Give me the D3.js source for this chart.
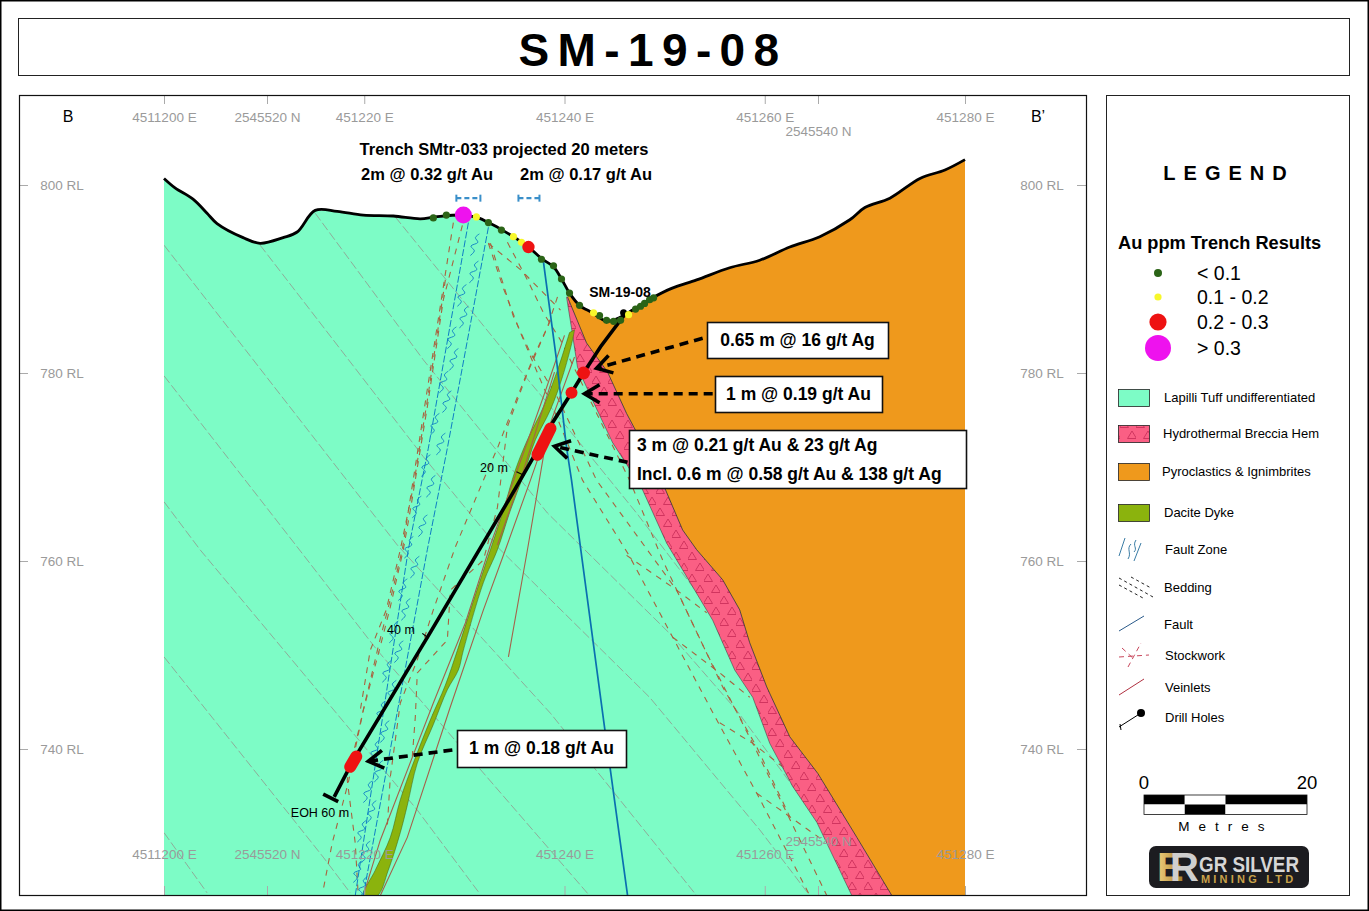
<!DOCTYPE html>
<html>
<head>
<meta charset="utf-8">
<script src="https://cdn.jsdelivr.net/npm/d3@7/dist/d3.min.js"></script>
<style>
  html, body { margin: 0; padding: 0; background: #fff; }
  svg { display: block; font-family: "Liberation Sans", Arial, sans-serif; }
</style>
</head>
<body>
<script>
// section coordinates: metres east of 451200 E, then RL in metres
const eastTicks = [0, 20, 40, 60, 80];
const eastLabels = ["4511200 E", "451220 E", "451240 E", "451260 E", "451280 E"];
const northTicks = [2545520, 2545540];
const rlTicks = [800, 780, 760, 740];

const ground = [[0,800.7],[1.1,799.7],[2.9,798.5],[4.3,797],[5.3,795.9],[7.9,794.4],[9.6,793.8],[11.9,794.4],[13.3,795],[15.1,797.3],[17.3,797.2],[19.9,796.8],[22.9,796.7],[25.6,796.4],[27.1,796.6],[29.9,796.8],[31.4,796.5],[32.4,796],[33.8,795.2],[36.4,793.4],[37.8,792.1],[38.9,791.3],[39.7,790],[40.5,788.5],[41.5,787.2],[42.8,786.4],[44.2,785.5],[45.5,785.9],[46.8,786.7],[48.8,788],[50.7,789],[53.2,789.9],[56.5,791.2],[59.5,792],[62.5,793.4],[65.5,794.5],[68.5,796.3],[70,797.6],[72.5,798.6],[75.5,800.7],[78,801.6],[80,802.7]];

const brecciaLeft = [[40.2,788.1],[40.7,784.8],[41.3,780.6],[42.8,777.1],[44.8,772.6],[47.7,767.8],[50.2,761.9],[54.8,753.7],[57,748.4],[58.8,745.5],[60.5,740.6],[62.8,736],[65.2,732.2],[68.7,724.4]];
const brecciaRight = [[40.3,788.1],[42.2,783.2],[44.3,780.1],[46.2,775.7],[47.2,773.7],[50,767.8],[51.8,763.3],[53.2,761.2],[55.8,758],[57.5,754.8],[58.5,751.3],[60.2,746.6],[62.5,741.3],[65.3,737.4],[69.2,730.6],[72.7,724.4]];

const dykeLeft = [[40.5,784.3],[39.3,780.3],[37.9,776.4],[36.3,772.9],[35.1,769.7],[33.9,765.4],[32.6,761.2],[31.1,756.4],[29.3,750.5],[28.1,746.8],[26.6,743.1],[24.9,738.5],[23.6,734.6],[22.6,730.6],[21.1,727.1],[19.9,724.4]];
const dykeRight = [[21.3,724.4],[22.4,727.1],[23.6,731.1],[24.3,734],[25.3,738.5],[26.9,742.6],[28.3,746.3],[29.4,748.4],[29.9,750.5],[31.9,757.7],[33.3,761.2],[34.6,765.4],[35.9,769.1],[37.1,772.9],[38.6,776.1],[39.8,779.6],[40.8,783.5],[41,784.6]];

const veinlets = [
  [[41,781.7],[38.6,774.7],[36.6,768.6],[34.1,761.2],[31.9,754.8],[28.6,744.5],[24.3,730.6],[21.6,724.4]],
  [[40,784],[37.9,777.5],[36.1,772.1],[32.6,761.7],[30.1,753.4],[26.9,744.9],[21.6,730.3],[19.9,724.4]],
  [[38,771.8],[36.3,761.2],[34.4,749.8]],
  [[39,780.1],[35.6,768.6],[33.3,761.7]]
];

const fault = [[37.9,791.8],[39.2,781.4],[40.2,772.1],[40.7,768.6],[44,742.3],[46.3,724.4]];

const faultZone = [
  [[30.4,796],[26.4,772],[24.4,761.2],[19.1,724.4]],
  [[32.4,795.5],[28.3,772],[26.3,761.2],[19.9,724.4]]
];
const wiggleCentres = [[31,793.6],[30.9,790.7],[29.7,788.2],[29.9,785.9],[28.7,783.7],[28.9,781.4],[27.9,779],[28.2,776.9],[27,774.5],[27.6,772.4],[26.1,770.1],[26.6,767.9],[25.2,765.7],[25.8,763.7],[24.4,761.4],[25,759.3],[23.8,756.9],[24.1,754.8],[22.9,752.4],[23.4,750.3],[22.2,748.2],[22.7,746.1],[21.6,743.9],[22,741.8],[21,739.7],[21.4,737.6],[20.3,735.4],[20.7,733.3],[19.7,731.2],[20.1,729],[19.3,726.9],[19.8,725.2]];
const wiggleShape = [[-0.4,-1.1],[0,-0.6],[-0.35,-0.1],[0.35,0.3],[0.1,0.8],[0.5,1.2]];

const bedding = [
  [[0,766.3],[3.6,761.2],[25.3,733.5],[31.4,724.8]],
  [[0,779.7],[13.3,761.5],[21.3,750.5],[42.5,724.4]],
  [[0,793.6],[23.3,761.7],[38.6,743.8],[53.2,724.4]],
  [[9.6,793.6],[25.9,771.1],[33.3,761.5],[38.6,755.9],[48.5,745.5],[59.5,731.4],[64.5,724.4]],
  [[15.1,797],[25.9,781.4],[38.3,765.1],[50.5,752.3],[57.2,744.1],[67.5,729.3]],
  [[23.1,796.6],[33.3,783.2],[38.6,776.4],[47.2,765.1],[59.5,747.9]],
  [[0,749.8],[15.9,728.5],[18.6,724.7]],
  [[0,731.1],[4.3,724.7]]
];

const stockwork = [
  [[28.9,796],[23.8,761.2],[22.6,755.9],[21.4,750.9],[19.9,744.1],[18.4,736.4],[16.8,730],[15.9,725]],
  [[29.8,795.7],[27.9,787.8],[26.3,776.4],[24.6,765.4],[23.9,761.2],[22.6,755.1],[21.6,750.9],[19.9,744.1],[18.3,736.7],[19.1,730],[19.4,724.4]],
  [[28.1,789.9],[26.3,777.1],[24.9,767.9],[23.6,761.2],[22.2,754.8],[20.6,750.5],[19.6,744.1]],
  [[32.4,793.8],[33.9,789],[35.6,784.3],[37.9,778.5],[39.2,775.4],[41.8,768.6],[46.5,760.5],[51.5,750.5],[55.2,743.1],[59.2,735.3],[64.5,724.4]],
  [[32.6,793.8],[34.9,786],[36.6,782.1],[39.3,777.4],[43.2,768.6],[51.2,756.9],[54.2,750.2],[58.8,740.6],[62.2,733.2],[66.2,724.4]],
  [[34.3,793.9],[36.3,789.9],[37.9,786.4],[39.6,783.5],[46.5,768.6],[49.8,760.1],[52.5,754],[55.8,746.6],[59.2,740.2],[62.5,732.8]],
  [[32.4,793.8],[35.6,791],[39.6,786.7]],
  [[46.2,760.6],[51.2,756.9],[54.2,754.5]],
  [[50.8,751.9],[55.5,748.1],[58.5,745.5]],
  [[55.5,742.8],[58.8,740.6],[61.8,738.1]],
  [[59.2,735.3],[62.5,732.8],[65.8,730.3]],
  [[39.3,788.1],[38.3,784.9],[36.9,781.7],[34.9,776.4],[33.3,772],[31.9,768.6],[29.1,761.5],[26.9,754.8],[25.3,749.5],[23.6,744.9],[22.6,737],[22.3,731.7]],
  [[38.6,785.6],[36.3,780],[34.3,774.3],[33.3,765.7],[31.9,760.1],[28.6,756.9],[28.3,751.6],[25.3,748.1],[25.1,743.4],[24.8,739.2]]
];

const drillHole = [[46,786.2],[43.6,782.8],[41.9,780],[40.7,777.9],[38.2,773.7],[37.3,771.8],[34.6,766.8],[26.6,752.4],[18.8,738.6],[17,734.9]];
const holeCap = [[15.9,735.2],[17.4,734.4]];
const depthTicks = [
  [[35.2,769.5],[36,769.1]],
  [[25.8,752.3],[26.4,751.8]]
];
const assayDots = [[41.9,780,6.5],[40.7,777.9,6]];
const assayIntervals = [
  [[38.6,774.1],[37.3,771.3]],
  [[19.2,739.2],[18.6,738.1]]
];

// trench samples by Au class
const samplesLow = [[26.9,796.5],[28.2,796.8],[32.4,796],[33.7,795.2],[37.7,792.1],[38.9,791.4],[39.7,790],[40.5,788.5],[41.5,787.2],[43.5,786.1],[44.2,785.6],[44.9,785.5],[45.6,785.6],[47.1,786.8],[47.6,787.1],[48,787.4],[48.5,787.8],[48.9,788]];
const samplesMid = [[31.2,796.6],[34.9,794.5],[35.7,793.9],[42.9,786.4],[46.4,786.2]];
const samplesHigh = [[36.4,793.4]];
const samplesTop = [[29.9,796.8]];
const trenchBars = [[29.2,31.6],[35.4,37.5]];

const calloutArrows = [
  [[53.8,783.7],[43.2,780.5]],
  [[54.8,777.8],[42,777.8]],
  [[46.3,770.5],[39,772.2]],
  [[28.8,739.9],[20.4,738.7]]
];

const auClasses = ["< 0.1", "0.1 - 0.2", "0.2 - 0.3", "> 0.3"];
const auColors = ["#2b6417", "#f7f72b", "#ee1212", "#ee12ee"];
const auRadius = [4, 3.6, 8.6, 13];
const mapRadius = [3.6, 3.6, 6.2, 8.5];
const lithLabels = ["Lapilli Tuff undifferentiated", "Hydrothermal Breccia Hem", "Pyroclastics & Ignimbrites", "Dacite Dyke"];
const lineLabels = ["Fault Zone", "Bedding", "Fault", "Stockwork", "Veinlets", "Drill Holes"];

const width = 1369;
const height = 911;
const frame = { left: 19, right: 1086, top: 95, bottom: 895 };

const x = d3.scaleLinear().domain([0, 80]).range([164, 965]);
const north = d3.scaleLinear().domain([2545520, 2545540]).range([267, 818]);
const y = d3.scaleLinear().domain([800, 740]).range([185, 749]);

const colTuff = "#7dfcc6", colOrange = "#ef991c", colPink = "#fa5f84", colDyke = "#8bb30d";
const colStock = "#a9633f", colBed = "#8fa393", colBlue = "#0f7fc4", colGrey = "#9a9a9a";

const svg = d3.select("body").append("svg").attr("width", width).attr("height", height);

const defs = svg.append("defs");
const pat = defs.append("pattern").attr("id", "breccia").attr("patternUnits", "userSpaceOnUse")
  .attr("width", 16).attr("height", 22);
pat.append("rect").attr("width", 16).attr("height", 22).attr("fill", colPink);
pat.selectAll("path").data(["M4 2 L8.5 9.5 L-0.5 9.5 Z", "M12 13 L16.5 20.5 L7.5 20.5 Z"]).join("path")
  .attr("d", d => d).attr("fill", "none").attr("stroke", "#c72a55").attr("stroke-width", 0.8);

defs.append("clipPath").attr("id", "mapClip").append("rect")
  .attr("x", frame.left).attr("y", frame.top)
  .attr("width", frame.right - frame.left).attr("height", frame.bottom - frame.top);

const head = defs.append("marker").attr("id", "arrowHead").attr("viewBox", "-20 -11 24 22")
  .attr("refX", 0).attr("refY", 0).attr("markerUnits", "userSpaceOnUse")
  .attr("markerWidth", 24).attr("markerHeight", 22).attr("orient", "auto");
head.append("path").attr("d", "M-15 -9 L0 0 L-15 9").attr("fill", "none").attr("stroke", "#000")
  .attr("stroke-width", 3.6);

const line = d3.line().x(d => x(d[0])).y(d => y(d[1]));
const smooth = d3.line().x(d => x(d[0])).y(d => y(d[1])).curve(d3.curveCatmullRom);
const bottomRL = y.invert(frame.bottom);

// page and panel frames
svg.append("rect").attr("x", 0.5).attr("y", 0.5).attr("width", width - 1).attr("height", height - 1)
  .attr("fill", "#fff").attr("stroke", "#000").attr("stroke-width", 2);
svg.selectAll(".box").data([[18.5, 18.5, 1331, 57], [1106.5, 95.5, 243, 800]]).join("rect").attr("class", "box")
  .attr("x", d => d[0]).attr("y", d => d[1]).attr("width", d => d[2]).attr("height", d => d[3])
  .attr("fill", "#fff").attr("stroke", "#222").attr("stroke-width", 1);

svg.append("text").attr("x", 653).attr("y", 66).attr("text-anchor", "middle")
  .attr("font-size", 46).attr("font-weight", "bold").attr("letter-spacing", 8.4).text("SM-19-08");

// geology
const map = svg.append("g").attr("clip-path", "url(#mapClip)");

const tuffOutline = [...ground, [80, bottomRL], [0, bottomRL]];
map.append("path").attr("d", line(tuffOutline) + "Z").attr("fill", colTuff);

defs.append("clipPath").attr("id", "tuffClip").append("path").attr("d", line(tuffOutline) + "Z");
const under = map.append("g").attr("clip-path", "url(#tuffClip)");

under.selectAll(".bed").data(bedding).join("path").attr("class", "bed")
  .attr("d", line).attr("fill", "none").attr("stroke", colBed).attr("stroke-width", 0.9)
  .attr("stroke-dasharray", "9,3");
under.selectAll(".stock").data(stockwork).join("path").attr("class", "stock")
  .attr("d", line).attr("fill", "none").attr("stroke", colStock).attr("stroke-width", 1.1)
  .attr("stroke-dasharray", "6,6");

const orangeOutline = [...brecciaRight, [80, bottomRL], ...ground.filter(d => d[0] > 40.3).reverse()];
map.append("path").attr("d", line(orangeOutline) + "Z").attr("fill", colOrange);
map.append("path").attr("d", line([...brecciaLeft, ...brecciaRight.slice().reverse()]) + "Z")
  .attr("fill", "url(#breccia)");
map.append("path").attr("d", line(brecciaRight)).attr("fill", "none").attr("stroke", "#222").attr("stroke-width", 0.7);
map.append("path").attr("d", line(brecciaLeft)).attr("fill", "none").attr("stroke", "#333").attr("stroke-width", 0.5);

map.append("path").attr("d", smooth([...dykeLeft, ...dykeRight]) + "Z").attr("fill", colDyke)
  .attr("stroke", "#3f5a10").attr("stroke-width", 0.5);
map.selectAll(".vein").data(veinlets).join("path").attr("class", "vein")
  .attr("d", line).attr("fill", "none").attr("stroke", "#a5614a").attr("stroke-width", 1.1);

map.selectAll(".fz").data(faultZone).join("path").attr("class", "fz")
  .attr("d", line).attr("fill", "none").attr("stroke", colBlue).attr("stroke-width", 1)
  .attr("stroke-dasharray", "7,2");
map.selectAll(".wig").data(wiggleCentres).join("path").attr("class", "wig")
  .attr("d", c => smooth(wiggleShape.map(s => [c[0] + s[0], c[1] + s[1]])))
  .attr("fill", "none").attr("stroke", colBlue).attr("stroke-width", 0.9);
map.append("path").attr("d", line(fault)).attr("fill", "none").attr("stroke", "#0a6fb0").attr("stroke-width", 1.7);

map.append("path").attr("d", smooth(ground)).attr("fill", "none").attr("stroke", "#000").attr("stroke-width", 2.8);

// drill hole and assays
map.append("path").attr("d", line(drillHole)).attr("fill", "none").attr("stroke", "#000").attr("stroke-width", 3.6);
map.append("path").attr("d", line(holeCap)).attr("stroke", "#000").attr("stroke-width", 3.6);
map.selectAll(".dtick").data(depthTicks).join("path").attr("class", "dtick")
  .attr("d", line).attr("stroke", "#000").attr("stroke-width", 1.2);
map.selectAll(".interval").data(assayIntervals).join("path").attr("class", "interval")
  .attr("d", line).attr("fill", "none").attr("stroke", "#ee1212").attr("stroke-width", 12)
  .attr("stroke-linecap", "round");
map.selectAll(".assay").data(assayDots).join("circle").attr("class", "assay")
  .attr("cx", d => x(d[0])).attr("cy", d => y(d[1])).attr("r", d => d[2]).attr("fill", "#ee1212");

map.append("circle").attr("cx", x(45.9)).attr("cy", y(786.4)).attr("r", 3.5).attr("fill", "#000");
[samplesLow, samplesMid, samplesHigh, samplesTop].forEach((set, i) => {
  map.append("g").selectAll("circle").data(set).join("circle")
    .attr("cx", d => x(d[0])).attr("cy", d => y(d[1])).attr("r", mapRadius[i])
    .attr("fill", auColors[i]);
});

// trench intervals
const barRL = 798.6;
const bars = svg.append("g").attr("stroke", "#3a8fc9");
bars.selectAll("line").data(trenchBars).join("line")
  .attr("x1", d => x(d[0])).attr("x2", d => x(d[1])).attr("y1", y(barRL)).attr("y2", y(barRL))
  .attr("stroke-width", 2.4).attr("stroke-dasharray", "5,3");
bars.selectAll("path").data(trenchBars.flat()).join("path")
  .attr("d", d => `M${x(d)} ${y(barRL) - 3.5}V${y(barRL) + 3.5}`).attr("stroke-width", 2);

// axes: ticks point inward and labels sit on the map
function styleAxis(g) {
  g.select(".domain").remove();
  g.selectAll("line").attr("stroke", "#aaa");
  g.selectAll("text").attr("fill", colGrey).attr("font-size", 13.5).attr("font-family", "Liberation Sans");
}
const eastLabel = d => eastLabels[eastTicks.indexOf(d)];
const northLabel = d => d + " N";

svg.append("g").attr("transform", `translate(0,${frame.top})`)
  .call(d3.axisTop(x).tickValues(eastTicks).tickFormat(eastLabel).tickSize(-9))
  .call(styleAxis).call(g => g.selectAll("text").attr("y", 27));
svg.append("g").attr("transform", `translate(0,${frame.top})`)
  .call(d3.axisTop(north).tickValues(northTicks).tickFormat(northLabel).tickSize(-9))
  .call(styleAxis).call(g => g.selectAll("text").attr("y", (d, i) => i ? 41 : 27));
svg.append("g").attr("transform", `translate(0,${frame.bottom})`)
  .call(d3.axisBottom(x).tickValues(eastTicks).tickFormat(eastLabel).tickSize(-9))
  .call(styleAxis).call(g => g.selectAll("text").attr("y", -36).attr("dy", 0));
svg.append("g").attr("transform", `translate(0,${frame.bottom})`)
  .call(d3.axisBottom(north).tickValues(northTicks).tickFormat(northLabel).tickSize(-9))
  .call(styleAxis).call(g => g.selectAll("text").attr("y", (d, i) => i ? -49 : -36).attr("dy", 0));
svg.append("g").attr("transform", `translate(${frame.left},0)`)
  .call(d3.axisLeft(y).tickValues(rlTicks).tickFormat(d => d + " RL").tickSize(-9))
  .call(styleAxis).call(g => g.selectAll("text").attr("x", 62).attr("text-anchor", "middle").attr("transform", `translate(-19,0)`));
svg.append("g").attr("transform", `translate(${frame.right},0)`)
  .call(d3.axisRight(y).tickValues(rlTicks).tickFormat(d => d + " RL").tickSize(-9))
  .call(styleAxis).call(g => g.selectAll("text").attr("x", -44).attr("text-anchor", "middle"));

svg.append("rect").attr("x", frame.left + 0.5).attr("y", frame.top + 0.5)
  .attr("width", frame.right - frame.left).attr("height", frame.bottom - frame.top)
  .attr("fill", "none").attr("stroke", "#111").attr("stroke-width", 1.2);

svg.selectAll(".sec").data([[68, "B"], [1038, "B’"]]).join("text").attr("class", "sec")
  .attr("x", d => d[0]).attr("y", 122).attr("text-anchor", "middle").attr("font-size", 16).text(d => d[1]);

// annotations on the section
const notes = [
  [504, 155, "Trench SMtr-033 projected 20 meters", 16.5, "bold"],
  [427, 180, "2m @ 0.32 g/t Au", 16.5, "bold"],
  [586, 180, "2m @ 0.17 g/t Au", 16.5, "bold"],
  [620, 297, "SM-19-08", 14, "bold"],
  [320, 817, "EOH 60 m", 12.5, "normal"],
  [494, 472, "20 m", 12.5, "normal"],
  [401, 634, "40 m", 12.5, "normal"]
];
svg.selectAll(".note").data(notes).join("text").attr("class", "note")
  .attr("x", d => d[0]).attr("y", d => d[1]).attr("text-anchor", "middle")
  .attr("font-size", d => d[3]).attr("font-weight", d => d[4]).text(d => d[2]);

svg.selectAll(".arrow").data(calloutArrows).join("path").attr("class", "arrow")
  .attr("d", line).attr("fill", "none").attr("stroke", "#000").attr("stroke-width", 3.6)
  .attr("stroke-dasharray", "9,6").attr("marker-end", "url(#arrowHead)");

const callouts = [
  [707, 322, 181, 36, ["0.65 m @ 16 g/t Ag"]],
  [715, 376, 167, 36, ["1 m @ 0.19 g/t Au"]],
  [629, 430, 337, 58, ["3 m @ 0.21 g/t Au & 23 g/t Ag", "Incl. 0.6 m @ 0.58 g/t Au & 138 g/t Ag"]],
  [457, 730, 169, 37, ["1 m @ 0.18 g/t Au"]]
];
const callG = svg.selectAll(".call").data(callouts).join("g").attr("class", "call");
callG.append("rect").attr("x", d => d[0] + 0.5).attr("y", d => d[1] + 0.5).attr("width", d => d[2]).attr("height", d => d[3])
  .attr("fill", "#fff").attr("stroke", "#111").attr("stroke-width", 1.6);
callG.each(function (d) {
  const one = d[4].length === 1;
  d3.select(this).selectAll("text").data(d[4]).join("text")
    .attr("x", one ? d[0] + d[2] / 2 : d[0] + 8)
    .attr("y", (t, i) => one ? d[1] + 24 : d[1] + 21 + i * 29)
    .attr("text-anchor", one ? "middle" : "start")
    .attr("font-size", 17.5).attr("font-weight", "bold").text(t => t);
});

// legend
const legend = svg.append("g");
legend.append("text").attr("x", 1229).attr("y", 180).attr("text-anchor", "middle")
  .attr("font-size", 20).attr("font-weight", "bold").attr("letter-spacing", 8).text("LEGEND");
legend.append("text").attr("x", 1118).attr("y", 249).attr("font-size", 18.2).attr("font-weight", "bold")
  .text("Au ppm Trench Results");

const auY = [273, 297, 322, 348];
legend.selectAll(".auDot").data(auClasses).join("circle").attr("class", "auDot")
  .attr("cx", 1158).attr("cy", (d, i) => auY[i]).attr("r", (d, i) => auRadius[i] * (i > 1 ? 1 : 1))
  .attr("fill", (d, i) => auColors[i]);
legend.selectAll(".auTxt").data(auClasses).join("text").attr("class", "auTxt")
  .attr("x", 1197).attr("y", (d, i) => auY[i] + 7).attr("font-size", 19.5).text(d => d);

const lithY = [389, 425, 463, 504];
const lithFill = [colTuff, "url(#breccia)", colOrange, colDyke];
const lithTextX = [1164, 1163, 1162, 1164];
legend.selectAll(".lith").data(lithLabels).join("rect").attr("class", "lith")
  .attr("x", 1118.5).attr("y", (d, i) => lithY[i] + 0.5).attr("width", 31).attr("height", 17)
  .attr("fill", (d, i) => lithFill[i]).attr("stroke", "#222").attr("stroke-width", 0.8);
legend.selectAll(".lithT").data(lithLabels).join("text").attr("class", "lithT")
  .attr("x", (d, i) => lithTextX[i]).attr("y", (d, i) => lithY[i] + 13).attr("font-size", 13).text(d => d);

const lineY = [554, 592, 629, 660, 692, 722];
const lineTextX = [1165, 1164, 1164, 1165, 1165, 1165];
legend.selectAll(".lineT").data(lineLabels).join("text").attr("class", "lineT")
  .attr("x", (d, i) => lineTextX[i]).attr("y", (d, i) => lineY[i]).attr("font-size", 13).text(d => d);

const glyphs = [
  { stroke: "#3a7ca5", dash: null, d: "M1119 556L1125 538M1128 559C1132 553 1126 549 1131 544M1134 552C1138 548 1132 546 1136 540M1134 561L1141 543" },
  { stroke: "#222", dash: "3,3", d: "M1119 578L1153 597M1119 585L1143 598M1131 577L1151 588" },
  { stroke: "#2a5a8a", dash: null, d: "M1119 631L1144 616" },
  { stroke: "#c8475c", dash: "5,4", d: "M1119 657L1149 655M1128 667L1141 643M1122 648L1135 660" },
  { stroke: "#b03040", dash: null, d: "M1119 695L1144 679" },
  { stroke: "#000", dash: null, d: "M1119 727L1141 713M1120 724L1121 730" }
];
legend.selectAll(".glyph").data(glyphs).join("path").attr("class", "glyph")
  .attr("d", d => d.d).attr("fill", "none").attr("stroke", d => d.stroke).attr("stroke-width", 1)
  .attr("stroke-dasharray", d => d.dash);
legend.append("circle").attr("cx", 1141).attr("cy", 713).attr("r", 4).attr("fill", "#000");

// scale bar
const scaleBreaks = [0, 5, 10, 20];
const barX = d3.scaleLinear().domain([0, 20]).range([1144, 1307]);
const pairs = d3.pairs(scaleBreaks);
legend.selectAll(".sbT").data(pairs).join("rect").attr("class", "sbT")
  .attr("x", d => barX(d[0])).attr("y", 795).attr("width", d => barX(d[1]) - barX(d[0])).attr("height", 9.5)
  .attr("fill", (d, i) => i % 2 ? "#fff" : "#000");
legend.selectAll(".sbB").data(pairs).join("rect").attr("class", "sbB")
  .attr("x", d => barX(d[0])).attr("y", 804.5).attr("width", d => barX(d[1]) - barX(d[0])).attr("height", 9.5)
  .attr("fill", (d, i) => i % 2 ? "#000" : "#fff");
legend.append("rect").attr("x", barX(0)).attr("y", 795).attr("width", barX(20) - barX(0)).attr("height", 19.5)
  .attr("fill", "none").attr("stroke", "#111").attr("stroke-width", 0.8);
legend.selectAll(".sbL").data([0, 20]).join("text").attr("class", "sbL")
  .attr("x", d => barX(d)).attr("y", 789).attr("text-anchor", "middle").attr("font-size", 18.5).text(d => d);
legend.append("text").attr("x", 1226).attr("y", 831).attr("text-anchor", "middle").attr("font-size", 13.5)
  .attr("letter-spacing", 9).text("Metres");

// logo
const logo = legend.append("g");
const gold = defs.append("linearGradient").attr("id", "gold");
gold.append("stop").attr("offset", "0%").attr("stop-color", "#f0cf7c");
gold.append("stop").attr("offset", "100%").attr("stop-color", "#a57d2c");
logo.append("rect").attr("x", 1149).attr("y", 846).attr("width", 160).attr("height", 42).attr("rx", 7).attr("fill", "#1c1c20");
logo.append("text").attr("x", 1157).attr("y", 881).attr("font-size", 40).attr("font-weight", "bold")
  .attr("fill", "url(#gold)").text("E");
logo.append("text").attr("x", 1170).attr("y", 881).attr("font-size", 40).attr("font-weight", "bold")
  .attr("fill", "#cfcfcf").text("R");
logo.append("text").attr("x", 1199).attr("y", 872).attr("font-size", 22).attr("font-weight", "bold")
  .attr("fill", "#d6d6d6").attr("textLength", 100).attr("lengthAdjust", "spacingAndGlyphs").text("GR SILVER");
logo.append("text").attr("x", 1201).attr("y", 883).attr("font-size", 11).attr("font-weight", "bold")
  .attr("fill", "#c9a24a").attr("letter-spacing", 3.2).text("MINING LTD");
</script>
</body>
</html>
